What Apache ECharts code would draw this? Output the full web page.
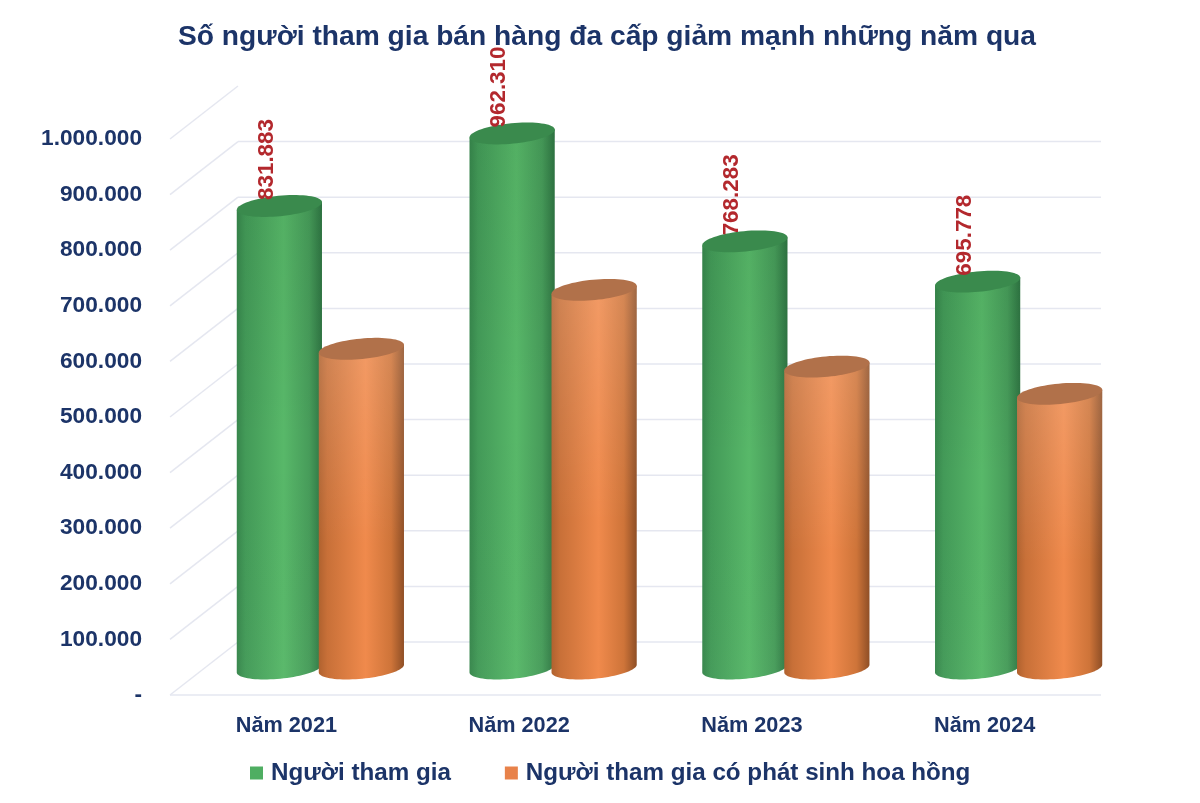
<!DOCTYPE html>
<html><head><meta charset="utf-8">
<script src="https://cdn.jsdelivr.net/npm/echarts@6/dist/echarts.min.js"></script>
<style>html,body{margin:0;padding:0;background:#fff}#c{width:1200px;height:803px}</style></head>
<body><div id="c"></div>
<script>
const titleText = 'Số người tham gia bán hàng đa cấp giảm mạnh những năm qua';
const categories = ['Năm 2021','Năm 2022','Năm 2023','Năm 2024'];
const seriesNames = ['Người tham gia','Người tham gia có phát sinh hoa hồng'];
const participants = [831883, 962310, 768283, 695778];
const commissioned = [575000, 681000, 543000, 494000];
const ticks = [0,100000,200000,300000,400000,500000,600000,700000,800000,900000,1000000];

const NAVY = '#1c3468', FONT = '"Liberation Sans", Arial, sans-serif';
const depthX = 68, depthY = 53, rx = 42.8, ry = 10.2, tilt = -5.5 * Math.PI / 180;
const dots = v => String(v).replace(/\B(?=(\d{3})+$)/g, '.');

function ell(cx, cy, t) {
  const c = Math.cos(t), s = Math.sin(t);
  return [cx + rx*c*Math.cos(tilt) - ry*s*Math.sin(tilt), cy + rx*c*Math.sin(tilt) + ry*s*Math.cos(tilt)];
}
const grad = (x,y,stops) => new echarts.graphic.LinearGradient(0,0,x,y,stops.map(s=>({offset:s[0],color:s[1]})));

function cylinder(side, body, cap, shade, withLabel) {
  return function (params, api) {
    const cat = api.value(0), val = api.value(1);
    const top = api.coord([cat, val]);
    const cx = top[0] + depthX/2 + side * 41;
    const ty = top[1] - depthY/2, by = api.coord([cat, 0])[1] - depthY/2;
    const pts = [];
    for (let i = 0; i <= 40; i++) pts.push(ell(cx, by, Math.PI - Math.PI*i/40));
    pts.push(ell(cx, ty, 0)); pts.push(ell(cx, ty, Math.PI));
    const capPts = [];
    for (let i = 0; i < 72; i++) capPts.push(ell(cx, ty, 2*Math.PI*i/72));
    const children = [
      {type:'polygon', shape:{points:pts}, style:{fill:grad(1,0,body)}},
      {type:'polygon', shape:{points:pts}, style:{fill:grad(0,1,shade)}},
      {type:'polygon', shape:{points:capPts}, style:{fill:cap}}
    ];
    if (withLabel) children.push({
      type:'text', x:cx-13, y:ty-6, rotation:Math.PI/2,
      style:{x:0,y:0,text:dots(val),fill:'#b3282d',font:'bold 22.4px '+FONT,align:'left',verticalAlign:'middle'}
    });
    return {type:'group', children};
  };
}
function gridLines(params, api) {
  const v = api.value(0);
  const p = api.coord([0, v]), L = params.coordSys.x, R = L + params.coordSys.width;
  const style = {stroke:'#e5e7f0', lineWidth:1.5, fill:null};
  const out = [{type:'line', shape:{x1:L,y1:p[1],x2:L+depthX,y2:p[1]-depthY}, style}];
  if (v < ticks[ticks.length-1]) out.push({type:'line', shape:{x1:L+depthX,y1:p[1]-depthY,x2:R,y2:p[1]-depthY}, style});
  if (v === 0) out.push({type:'line', shape:{x1:L,y1:p[1],x2:R,y2:p[1]}, style});
  return {type:'group', children:out};
}

const chart = echarts.init(document.getElementById('c'), null, {renderer:'canvas'});
chart.setOption({
  animation:false,
  backgroundColor:'#ffffff',
  title:{text:titleText,left:173,top:18,textStyle:{color:NAVY,fontFamily:FONT,fontWeight:'bold',fontSize:28.2}},
  legend:{
    data:seriesNames,left:245,top:756,itemWidth:13,itemHeight:13,itemGap:54,icon:'rect',selectedMode:false,
    textStyle:{color:NAVY,fontFamily:FONT,fontWeight:'bold',fontSize:24.2,padding:[0,0,0,3]}
  },
  grid:{left:170,width:931,top:139,height:556},
  xAxis:{type:'category',data:categories,axisLine:{show:false},axisTick:{show:false},splitLine:{show:false},
    axisLabel:{margin:20,color:NAVY,fontFamily:FONT,fontWeight:'bold',fontSize:21.7}},
  yAxis:{type:'value',min:0,max:1000000,interval:100000,axisLine:{show:false},axisTick:{show:false},splitLine:{show:false},
    axisLabel:{margin:28,color:NAVY,fontFamily:FONT,fontWeight:'bold',fontSize:22.7,formatter:v=>v===0?'-':dots(v)}},
  series:[
    {type:'custom',name:'grid',data:ticks.map(v=>[v]),renderItem:gridLines,encode:{y:0},silent:true,clip:false,z:1},
    {type:'custom',name:seriesNames[0],itemStyle:{color:'#4fae62'},clip:false,z:2,encode:{x:0,y:1},
      data:participants.map((v,i)=>[i,v]),
      renderItem:cylinder(-1,[[0,'#37864c'],[.1,'#439a58'],[.55,'#58b869'],[.85,'#479c5a'],[1,'#2f7543']],'#3a8a4d',[[0,'rgba(0,40,10,.06)'],[.5,'rgba(0,0,0,0)'],[1,'rgba(255,255,255,.02)']],true)},
    {type:'custom',name:seriesNames[1],itemStyle:{color:'#e8824a'},clip:false,z:3,encode:{x:0,y:1},
      data:commissioned.map((v,i)=>[i,v]),
      renderItem:cylinder(1,[[0,'#b0622f'],[.1,'#c87038'],[.55,'#f08a4c'],[.85,'#ce7439'],[1,'#8f4f26']],'#b1714a',[[0,'rgba(255,255,255,.14)'],[.6,'rgba(255,255,255,0)'],[1,'rgba(255,255,255,0)']],false)}
  ]
});
</script></body></html>
